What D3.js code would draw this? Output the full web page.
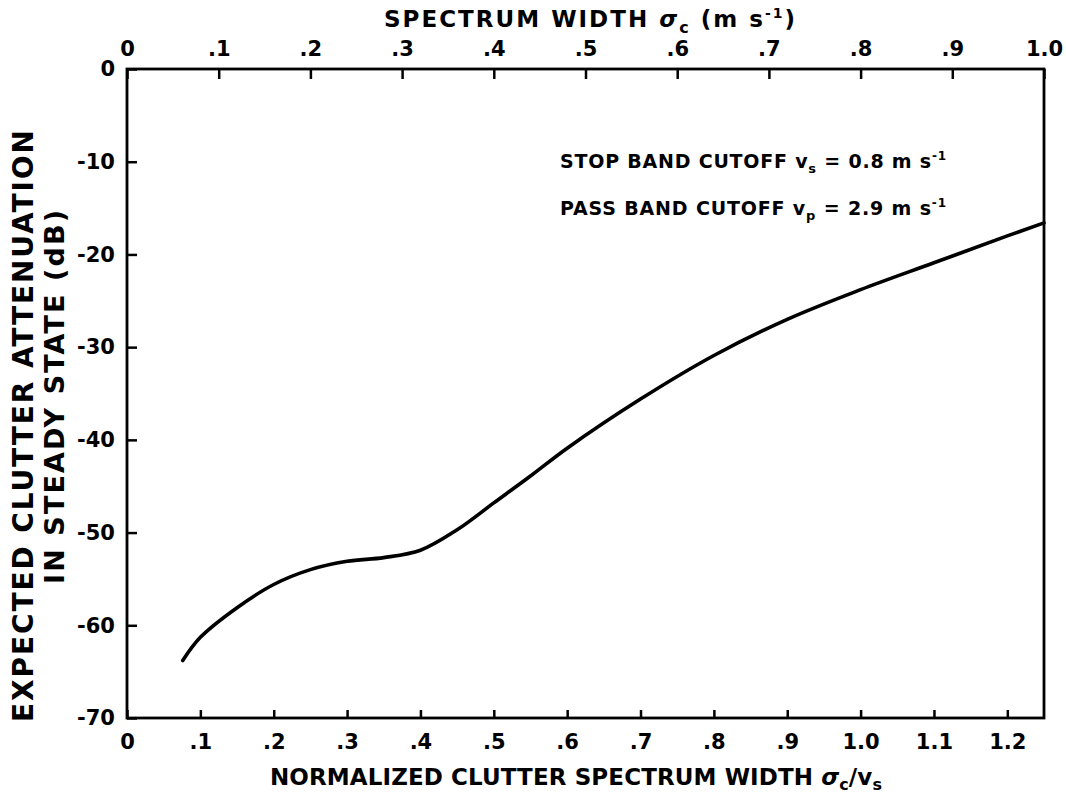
<!DOCTYPE html>
<html><head><meta charset="utf-8">
<script src="https://cdn.jsdelivr.net/npm/d3@7"></script>
<style>body{margin:0;background:#fff}svg text{font-family:"DejaVu Sans",sans-serif;font-weight:bold;fill:#000}</style>
</head><body><svg id="c" width="1066" height="797"></svg>
<script>
// Normalized clutter spectrum width sigma_c / v_s
const normWidth = [0.076, 0.10, 0.15, 0.20, 0.25, 0.30, 0.35, 0.40, 0.45, 0.50, 0.55, 0.60, 0.70, 0.80, 0.90, 1.00, 1.10, 1.20, 1.25];
// Expected clutter attenuation in steady state (dB)
const attenuation = [-63.8, -61.3, -58.1, -55.6, -54.0, -53.1, -52.7, -51.9, -49.7, -46.8, -43.9, -40.9, -35.6, -30.9, -27.0, -23.8, -20.9, -18.0, -16.6];

const bottomTicks = [0, 0.1, 0.2, 0.3, 0.4, 0.5, 0.6, 0.7, 0.8, 0.9, 1.0, 1.1, 1.2];
const bottomTickLabels = ["0", ".1", ".2", ".3", ".4", ".5", ".6", ".7", ".8", ".9", "1.0", "1.1", "1.2"];
const topTicks = [0, 0.1, 0.2, 0.3, 0.4, 0.5, 0.6, 0.7, 0.8, 0.9, 1.0];
const topTickLabels = ["0", ".1", ".2", ".3", ".4", ".5", ".6", ".7", ".8", ".9", "1.0"];
const yTicks = [0, -10, -20, -30, -40, -50, -60, -70];
const yTickLabels = ["0", "-10", "-20", "-30", "-40", "-50", "-60", "-70"];
const stopBand = 0.8; // m/s
const passBand = 2.9; // m/s

const svg = d3.select("#c");
const L = 127, R = 1044, T = 69, B = 718;

const x = d3.scaleLinear().domain([0, 1.25]).range([L, R]);
const xTop = d3.scaleLinear().domain([0, 1.25 * stopBand]).range([L, R]);
const y = d3.scaleLinear().domain([-70, 0]).range([B, T]);

const fmt = (arr, labels) => d => labels[arr.findIndex(v => Math.abs(v - d) < 1e-9)];

const gb = svg.append("g").attr("transform", `translate(0,${B})`)
  .call(d3.axisBottom(x).tickValues(bottomTicks).tickFormat(fmt(bottomTicks, bottomTickLabels)).tickSize(-8).tickPadding(16));
const gt = svg.append("g").attr("transform", `translate(0,${T})`)
  .call(d3.axisTop(xTop).tickValues(topTicks).tickFormat(fmt(topTicks, topTickLabels)).tickSize(-10).tickPadding(13));
const gl = svg.append("g").attr("transform", `translate(${L},0)`)
  .call(d3.axisLeft(y).tickValues(yTicks).tickFormat(fmt(yTicks, yTickLabels)).tickSize(-10).tickPadding(12));

[gb, gt, gl].forEach(g => {
  g.select(".domain").remove();
  g.selectAll(".tick line").attr("stroke", "#000").attr("stroke-width", 2.5);
  g.selectAll(".tick text").attr("font-size", 21).style("font-family", '"DejaVu Sans",sans-serif').style("font-weight", "bold");
});

svg.append("rect").attr("x", L).attr("y", T).attr("width", R - L).attr("height", B - T)
  .attr("fill", "none").attr("stroke", "#000").attr("stroke-width", 2.8);

const line = d3.line().x((d, i) => x(normWidth[i])).y(d => y(d)).curve(d3.curveCatmullRom.alpha(0.5));
svg.append("path").datum(attenuation).attr("d", line)
  .attr("fill", "none").attr("stroke", "#000").attr("stroke-width", 3.6).attr("stroke-linecap", "round");

// top title
const tt = svg.append("text").attr("x", 384).attr("y", 27).attr("font-size", 23)
  .attr("textLength", 411).attr("lengthAdjust", "spacing");
tt.append("tspan").text("SPECTRUM WIDTH ");
tt.append("tspan").text("σ").attr("font-style", "italic");
tt.append("tspan").text("c").attr("font-size", 16).attr("dy", 6);
tt.append("tspan").text(" (m s").attr("dy", -6);
tt.append("tspan").text("-1").attr("font-size", 14).attr("dy", -9);
tt.append("tspan").text(")").attr("dy", 9);

// bottom title
const bt = svg.append("text").attr("x", 270).attr("y", 785).attr("font-size", 23)
  .attr("textLength", 612).attr("lengthAdjust", "spacing");
bt.append("tspan").text("NORMALIZED CLUTTER SPECTRUM WIDTH ");
bt.append("tspan").text("σ").attr("font-style", "italic");
bt.append("tspan").text("c").attr("font-size", 16).attr("dy", 5);
bt.append("tspan").text("/v").attr("dy", -5);
bt.append("tspan").text("s").attr("font-size", 16).attr("dy", 5);

// y title
svg.append("text").attr("transform", "translate(33,722) rotate(-90)").attr("font-size", 28)
  .attr("textLength", 592).attr("lengthAdjust", "spacing").text("EXPECTED CLUTTER ATTENUATION");
svg.append("text").attr("transform", "translate(64,584) rotate(-90)").attr("font-size", 27)
  .attr("textLength", 374).attr("lengthAdjust", "spacing").text("IN STEADY STATE (dB)");

// annotations
function annot(yb, label, sub, val) {
  const t = svg.append("text").attr("x", 560).attr("y", yb).attr("font-size", 19)
    .attr("textLength", 386).attr("lengthAdjust", "spacing");
  t.append("tspan").text(label + "   ");
  t.append("tspan").text("v");
  t.append("tspan").text(sub).attr("font-size", 13).attr("dy", 5);
  t.append("tspan").text(" = " + val + " m s").attr("dy", -5);
  t.append("tspan").text("-1").attr("font-size", 12).attr("dy", -8);
}
annot(168, "STOP BAND CUTOFF", "s", stopBand.toFixed(1));
annot(215, "PASS BAND CUTOFF", "p", passBand.toFixed(1));
</script></body></html>
